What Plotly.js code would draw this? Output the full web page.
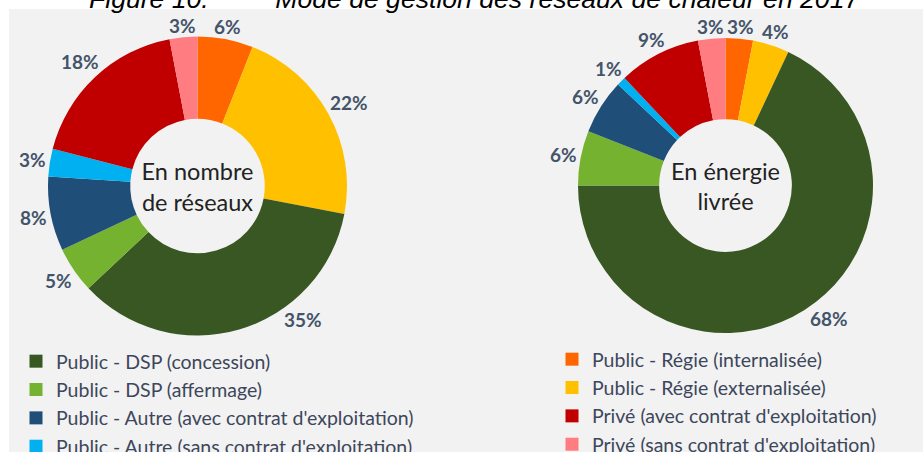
<!DOCTYPE html>
<html>
<head>
<meta charset="utf-8">
<script src="https://cdn.plot.ly/plotly-3.0.1.min.js"></script>
<style>html,body{margin:0;padding:0;background:#fff}#chart{width:923px;height:452px}</style>
</head>
<body>
<div id="chart"></div>
<script>
// Categories (clockwise from 12 o'clock)
const categories = [
  "Public - Régie (internalisée)",
  "Public - Régie (externalisée)",
  "Public - DSP (concession)",
  "Public - DSP (affermage)",
  "Public - Autre (avec contrat d'exploitation)",
  "Public - Autre (sans contrat d'exploitation)",
  "Privé (avec contrat d'exploitation)",
  "Privé (sans contrat d'exploitation)"
];
// Shares (%)
const enNombre = [6, 22, 35, 5, 8, 3, 18, 3];
const enEnergie = [3, 4, 68, 6, 6, 1, 9, 3];
const sliceColors = ["#ff6600", "#ffc000", "#385723", "#74b230", "#1f4e79", "#00b0f0", "#c00000", "#ff7c80"];
// Legend columns
const legendLeft = [2, 3, 4, 5];
const legendRight = [0, 1, 6, 7];
const centerLeft = "En nombre<br>de réseaux";
const centerRight = "En énergie<br>livrée";
const figLabel = "Figure 10.";
const figTitle = "Mode de gestion des réseaux de chaleur en 2017";

const W = 923, H = 452;
const LBL = 19;
const labelFont = {family: "Lato", size: LBL, color: "#44546a", weight: "bold"};
const centerFont = {family: "Lato", size: 23.5, color: "#222222"};

const pies = [
  {values: enNombre, title: centerLeft, box: [48, 347, 36.5, 335.5]},
  {values: enEnergie, title: centerRight, box: [578, 873, 38, 333]}
];

const traces = [];
const annotations = [];
pies.forEach(p => {
  const [x0, x1, y0, y1] = p.box;
  traces.push({
    type: "pie", labels: categories, values: p.values, sort: false, direction: "clockwise", rotation: 0,
    hole: 0.45, marker: {colors: sliceColors, line: {width: 0}},
    textinfo: "none", automargin: false,
    title: {text: p.title, position: "middle center", font: centerFont},
    domain: {x: [x0 / W, x1 / W], y: [1 - y1 / H, 1 - y0 / H]},
    showlegend: false, hoverinfo: "label+percent"
  });
  // percentage labels just outside each slice; labels that would fall into
  // the legend area below the donut are turned towards the side ("best fit")
  const cx = (x0 + x1) / 2, cy = (y0 + y1) / 2, R = Math.min(x1 - x0, y1 - y0) / 2;
  const total = p.values.reduce((a, b) => a + b, 0);
  let cum = 0;
  p.values.forEach(v => {
    let th = 2 * Math.PI * (cum + v / 2) / total;
    cum += v;
    const txt = v + "%";
    const w = ((txt.length - 1) * 0.58 + 0.76) * LBL, h = 0.72 * LBL;
    const place = t => {
      const s = Math.sin(t), c = Math.cos(t);
      const d = R + 4 + Math.abs(s) * w / 2 + Math.abs(c) * h / 2;
      return [cx + d * s, cy - d * c];
    };
    let pos = place(th);
    const step = (th < Math.PI ? -1 : 1) * Math.PI / 360;
    let guard = 0;
    while (pos[1] - cy > 0.9 * R && guard++ < 360) { th += step; pos = place(th); }
    annotations.push({text: "<b>" + txt + "</b>", xref: "paper", yref: "paper",
      x: pos[0] / W, y: 1 - pos[1] / H, xanchor: "center", yanchor: "middle",
      showarrow: false, font: labelFont});
  });
});

legendLeft.forEach(i => traces.push({type: "scatter", mode: "markers", x: [null], y: [null], name: categories[i],
  marker: {symbol: "square", size: 13, color: sliceColors[i]}, legend: "legend", showlegend: true}));
legendRight.forEach(i => traces.push({type: "scatter", mode: "markers", x: [null], y: [null], name: categories[i],
  marker: {symbol: "square", size: 13, color: sliceColors[i]}, legend: "legend2", showlegend: true}));

annotations.push({text: "<i>" + figLabel + "&nbsp;".repeat(9) + figTitle + "</i>", xref: "paper", yref: "paper",
  x: 87 / W, xanchor: "left", y: 1 + 1 / H, yanchor: "middle", showarrow: false,
  font: {family: "Liberation Sans", size: 26.6, color: "#000"}});

const legFont = {family: "Lato", size: 19.5, color: "#3d475b"};
const layout = {
  width: W, height: H, margin: {l: 0, r: 0, t: 0, b: 0, autoexpand: false},
  paper_bgcolor: "#ffffff", plot_bgcolor: "rgba(0,0,0,0)",
  xaxis: {visible: false}, yaxis: {visible: false},
  shapes: [{type: "rect", xref: "paper", yref: "paper", x0: 9 / W, x1: 1, y0: 0, y1: 1 - 9 / H,
    fillcolor: "#f2f2f2", line: {width: 0}, layer: "below"}],
  annotations: annotations,
  legend: {x: 16 / W, xanchor: "left", y: 1 - 342 / H, yanchor: "top", font: legFont,
    bgcolor: "rgba(0,0,0,0)", borderwidth: 0, tracegroupgap: 0},
  legend2: {x: 552 / W, xanchor: "left", y: 1 - 340 / H, yanchor: "top", font: legFont,
    bgcolor: "rgba(0,0,0,0)", borderwidth: 0, tracegroupgap: 0},
  showlegend: true
};
Plotly.newPlot("chart", traces, layout, {displayModeBar: false, staticPlot: true});
</script>
</body>
</html>
